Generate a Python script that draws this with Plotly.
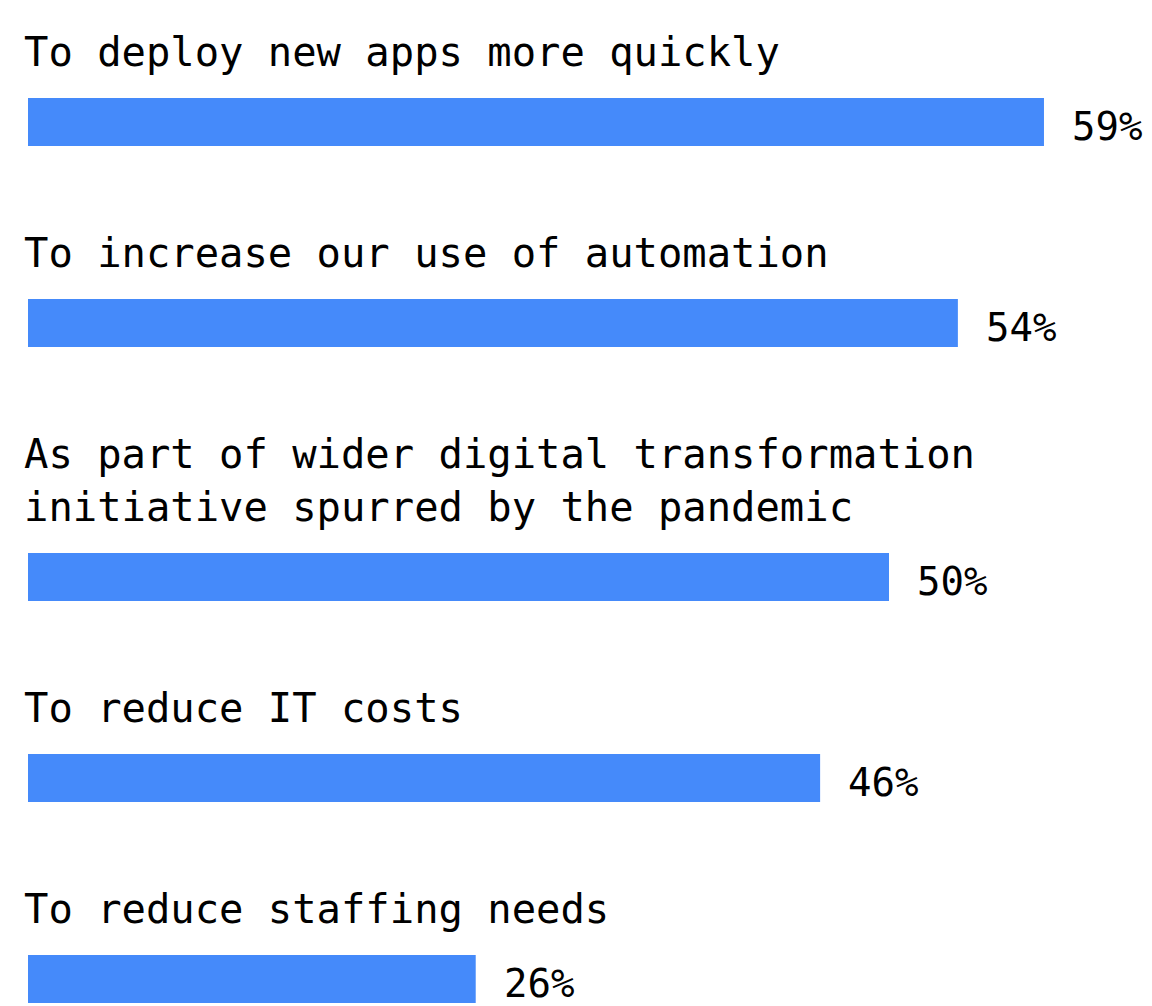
import plotly.graph_objects as go

# ---- data ----
categories = [
    "To deploy new apps more quickly",
    "To increase our use of automation",
    "As part of wider digital transformation<br>initiative spurred by the pandemic",
    "To reduce IT costs",
    "To reduce staffing needs",
]
values = [59, 54, 50, 46, 26]
value_labels = ["59%", "54%", "50%", "46%", "26%"]

# ---- layout / style ----
PAGE_OFFSET = 8            # default page body margin
W, H = 1152 - PAGE_OFFSET, 1006 - PAGE_OFFSET
LEFT = 28 - PAGE_OFFSET
PX_PER_UNIT = 17.22
FIRST_TOP = 98 - PAGE_OFFSET
ROW_STEP = 201
LINE_H = 53
BAR_H = 48
LABEL_GAP = 20
BAR_COLOR = "#458AFA"
FONT = "DejaVu Sans Mono"

n_lines = [c.count("<br>") + 1 for c in categories]
tops = []
t = FIRST_TOP
for i, n in enumerate(n_lines):
    if i > 0:
        t += ROW_STEP + LINE_H * (n - 1)
    tops.append(t)
centers = [tp + BAR_H / 2 for tp in tops]

fig = go.Figure()
fig.add_trace(go.Bar(
    x=values, y=centers, orientation="h", width=BAR_H,
    marker=dict(color=BAR_COLOR, line=dict(width=0)),
    hoverinfo="skip",
))

annotations = []
for cat, tp in zip(categories, tops):
    annotations.append(dict(
        text=cat, x=0, y=tp - LABEL_GAP, xref="x", yref="y",
        xanchor="left", yanchor="bottom", align="left", showarrow=False,
        xshift=-6, font=dict(family=FONT, size=40.5, color="#000000"),
    ))
for v, lab, c in zip(values, value_labels, centers):
    annotations.append(dict(
        text=lab, x=v, y=c, xref="x", yref="y",
        xanchor="left", yanchor="middle", showarrow=False,
        xshift=26, yshift=-4, font=dict(family=FONT, size=39, color="#000000"),
    ))

fig.update_layout(
    width=W, height=H, autosize=False,
    margin=dict(l=LEFT, r=0, t=0, b=0),
    paper_bgcolor="white", plot_bgcolor="white",
    showlegend=False,
    xaxis=dict(range=[0, (W - LEFT) / PX_PER_UNIT], visible=False, fixedrange=True),
    yaxis=dict(range=[H, 0], visible=False, fixedrange=True),
    annotations=annotations,
)

fig.write_html("out.html")
